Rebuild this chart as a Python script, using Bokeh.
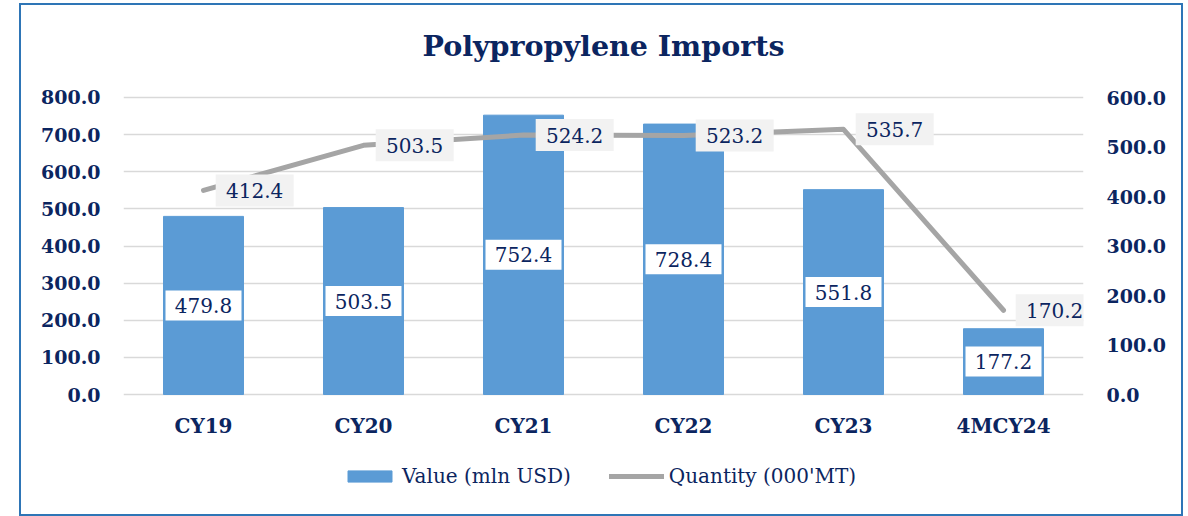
from bokeh.plotting import figure
from bokeh.models import (Range1d, LinearAxis, FactorRange, Legend, LegendItem, Label,
                          NumeralTickFormatter, FixedTicker, ColumnDataSource)
from bokeh.layouts import column
from bokeh.transform import dodge
from bokeh.core.properties import value
from bokeh.embed import file_html
from bokeh.resources import INLINE

categories = ["CY19", "CY20", "CY21", "CY22", "CY23", "4MCY24"]
value_mln_usd = [479.8, 503.5, 752.4, 728.4, 551.8, 177.2]
quantity_000mt = [412.4, 503.5, 524.2, 523.2, 535.7, 170.2]
left_ticks = [0, 100, 200, 300, 400, 500, 600, 700, 800]
right_ticks = [0, 100, 200, 300, 400, 500, 600]
title_text = "Polypropylene Imports"
series_names = ["Value (mln USD)", "Quantity (000'MT)"]

NAVY = "#0B2560"
BAR = "#5B9BD5"
LINE = "#A5A5A5"
FONT = "DejaVu Serif"

src = ColumnDataSource(dict(
    cat=categories,
    val=value_mln_usd,
    val_mid=[v / 2 for v in value_mln_usd],
    val_txt=[f"{v:.1f}" for v in value_mln_usd],
    qty=quantity_000mt,
    qty_txt=[f"{q:.1f}" for q in quantity_000mt],
))

W, H = 1160, 509
p = figure(x_range=FactorRange(*categories), y_range=Range1d(-323.2, 1047.8),
           width=W, height=H, output_backend="svg", toolbar_location=None,
           min_border_left=102, min_border_right=98, min_border_top=0, min_border_bottom=0,
           background_fill_color="white", border_fill_color="white")
p.outline_line_color = None
p.extra_y_ranges = {"q": Range1d(-242.4, 785.9)}

# grid
p.xgrid.grid_line_color = None
p.ygrid.grid_line_color = "#D9D9D9"
p.ygrid.grid_line_width = 1.5
p.ygrid.ticker = FixedTicker(ticks=left_ticks)

# axes
p.xaxis.visible = False
p.yaxis[0].ticker = FixedTicker(ticks=left_ticks)
right = LinearAxis(y_range_name="q", ticker=FixedTicker(ticks=right_ticks))
p.add_layout(right, "right")
for ax in [p.yaxis[0], right]:
    ax.formatter = NumeralTickFormatter(format="0.0")
    ax.axis_line_color = None
    ax.major_tick_line_color = None
    ax.minor_tick_line_color = None
    ax.major_tick_out = 0
    ax.major_tick_in = 0
    ax.minor_tick_out = 0
    ax.major_label_text_font = FONT
    ax.major_label_text_font_style = "bold"
    ax.major_label_text_font_size = "19px"
    ax.major_label_text_color = NAVY
p.yaxis[0].major_label_standoff = 23
right.major_label_standoff = 23

# bars
bars = p.vbar(x="cat", top="val", width=0.5, source=src, fill_color=BAR, line_color=BAR)

# category labels (x axis)
p.text(x="cat", y=-83.5, text="cat", source=src, text_align="center", text_baseline="middle",
       text_font=value(FONT), text_font_style="bold", text_font_size="20px", text_color=NAVY)

# bar labels
p.rect(x="cat", y="val_mid", width=76, height=30, width_units="screen", height_units="screen",
       source=src, fill_color="white", line_color=None)
p.text(x="cat", y="val_mid", text="val_txt", source=src, text_align="center",
       text_baseline="middle", text_font=value(FONT), text_font_size="20px", text_color=NAVY)

# line
ln = p.line(x="cat", y="qty", source=src, y_range_name="q", line_color=LINE, line_width=5,
            line_cap="round", line_join="round")

# line labels
p.rect(x=dodge("cat", 0.32, range=p.x_range), y="qty", y_range_name="q",
       width=78, height=32, width_units="screen", height_units="screen",
       source=src, fill_color="#F2F2F2", line_color=None)
p.text(x=dodge("cat", 0.32, range=p.x_range), y="qty", y_range_name="q", text="qty_txt",
       source=src, text_align="center", text_baseline="middle", text_font=value(FONT),
       text_font_size="20px", text_color=NAVY)

# title
p.add_layout(Label(x=3, y=940, text=title_text, text_align="center", text_baseline="middle",
                   text_font=FONT, text_font_style="bold", text_font_size="28.5px",
                   text_color=NAVY))

legend = Legend(items=[LegendItem(label=series_names[0], renderers=[bars]),
                       LegendItem(label=series_names[1], renderers=[ln])],
                orientation="horizontal", location=(219, 26),
                glyph_width=55, glyph_height=14, label_standoff=5, spacing=38,
                label_text_font=FONT, label_text_font_size="20px", label_text_color=NAVY,
                border_line_color=None, background_fill_alpha=0, margin=0, padding=6)
p.add_layout(legend, "center")

layout = column(p, styles={"border": "2px solid #2E75B6", "margin-left": "19px",
                           "margin-top": "3px"})

open("out.html", "w").write(file_html(layout, INLINE))
